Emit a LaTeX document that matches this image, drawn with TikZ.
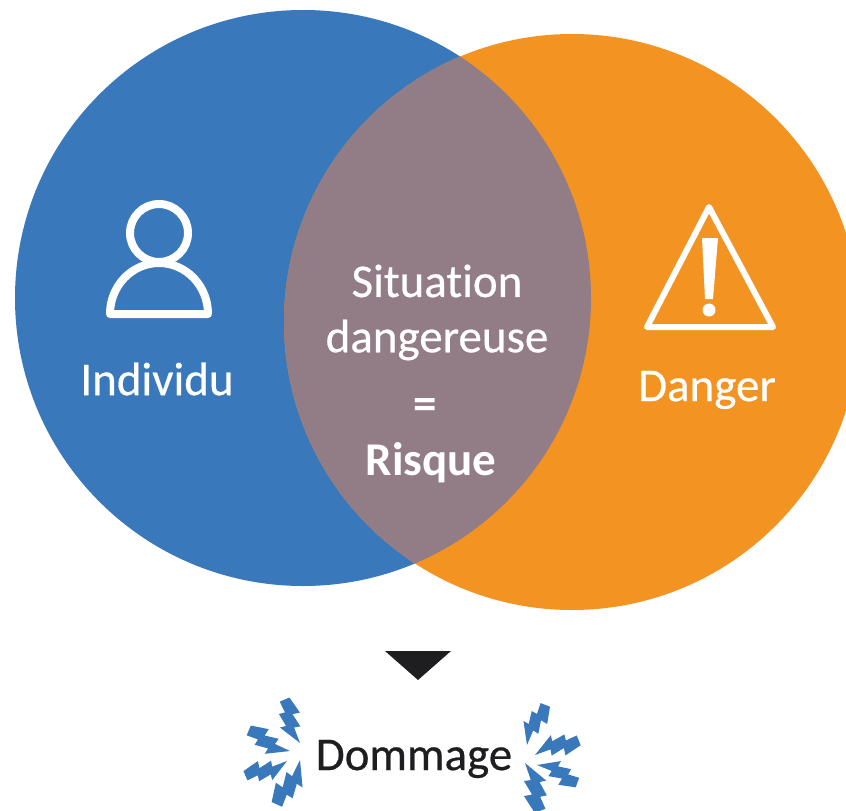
\documentclass[tikz,border=0pt]{standalone}
\usepackage{fontspec}
\setmainfont[Ligatures=NoCommon]{Carlito}
\newfontfamily\lblfont[Ligatures=NoCommon,FakeBold=0.5]{Carlito}
\definecolor{ind_blue}{RGB}{58, 120, 188}
\definecolor{dgr_orange}{RGB}{243, 147, 34}
\definecolor{risk_mauve}{RGB}{146, 124, 134}
\definecolor{ink}{RGB}{30, 30, 32}
\tikzstyle{bluen}=[circle,fill=ind_blue,inner sep=0pt,minimum size=576pt]
\tikzstyle{orangen}=[circle,fill=dgr_orange,inner sep=0pt,minimum size=576pt]
\tikzstyle{lbl}=[text=white,inner sep=0pt,font=\fontsize{47}{47}\lblfont]
\tikzstyle{blbl}=[text=white,inner sep=0pt,font=\fontsize{47}{47}\selectfont\bfseries]
\tikzstyle{icon}=[draw=white,line width=8pt,line join=round]
\tikzset{
  bolt/.pic={
    \fill [ind_blue] (0,0) -- (.36,.01) -- (.33,.11) -- (.64,.07) -- (.61,.19)
      -- (1,.13) -- (1,-.04) -- (.74,-.03) -- (.76,-.13) -- (.46,-.1)
      -- (.48,-.2) -- cycle;
  }
}
\begin{document}
\begin{tikzpicture}[x=1pt,y=-1pt]
        \useasboundingbox (0,0) rectangle (846,811);
        \node [style=bluen] (indiv) at (303,298) {};
        \node [style=orangen] (dgr) at (572,322) {};
        \begin{scope}
          \clip (303,298) circle (288);
          \fill [risk_mauve] (572,322) circle (288);
        \end{scope}
        % person
        \draw [style=icon] (159,233) circle (29);
        \draw [style=icon] (110,314) arc (180:360:49 and 51) -- cycle;
        % warning sign
        \draw [style=icon,line width=6pt] (709,207) -- (773,327) -- (647,327) -- cycle;
        \fill [white] (702,238) -- (718,238) -- (713,299) -- (705,299) -- cycle;
        \fill [white] (709,310) circle (6.5);
        % labels
        \node [style=lbl] (t1) at (157,379) {Individu};
        \node [style=lbl] (t2) at (707,390) {Danger};
        \node [style=lbl] (t3) at (437,281) {Situation};
        \node [style=lbl] (t4) at (437,340) {dangereuse};
        \node [style=blbl] (t5) at (425,409) {=};
        \node [style=blbl] (t6) at (431,463) {Risque};
        \node [style=lbl,text=ink] (t7) at (414,759) {Dommage};
        \fill [ink] (385,651) -- (451,651) -- (418,680) -- cycle;
        % sparks
        \foreach \px/\py/\ang/\len in {300/743/113/46, 290/751/157/46, 287/761/203/44, 300/760/246/50,
          527/745/69/44, 535/755/22/46, 537/765/-20/44, 525/763/-69/50}
          \path (\px,\py) pic [rotate=\ang,scale=\len,yscale=1.35] {bolt};
    \end{tikzpicture}
\end{document}
